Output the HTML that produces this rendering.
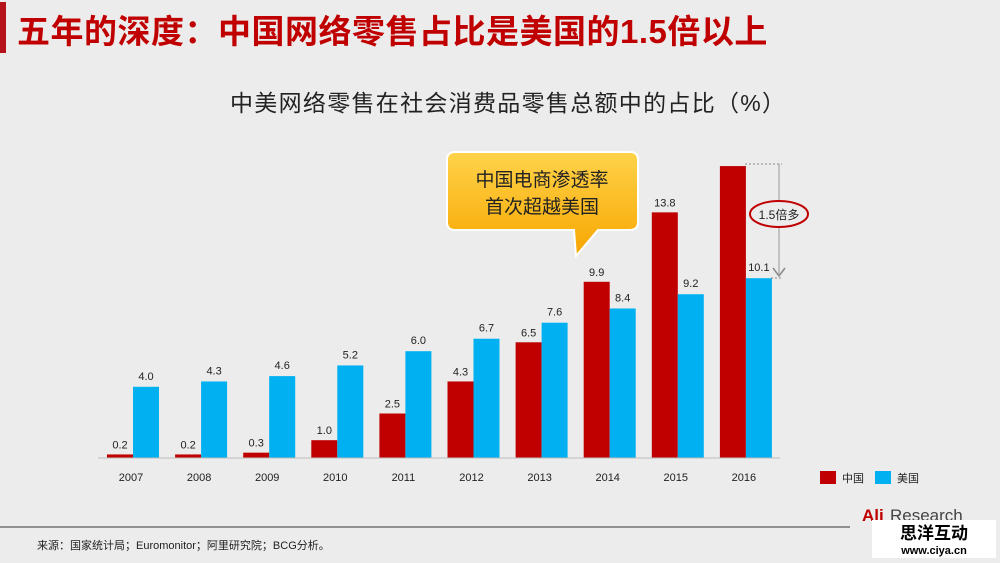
<!DOCTYPE html>
<html><head><meta charset="utf-8"><style>
body{margin:0;width:1000px;height:563px;background:#ececec;overflow:hidden;position:relative;font-family:"Liberation Sans","Noto Sans CJK SC",sans-serif}
.t{position:absolute;white-space:nowrap}
</style></head><body>
<div style="position:absolute;left:0;top:2px;width:6px;height:51px;background:#b5121b"></div>
<div class="t" style="left:17px;top:5px;font-size:33px;font-weight:bold;color:#c00000;letter-spacing:0.5px">五年的深度：中国网络零售占比是美国的1.5倍以上</div>
<div class="t" style="left:230px;top:84px;font-size:23px;color:#222;letter-spacing:1.3px">中美网络零售在社会消费品零售总额中的占比（%）</div>
<svg width="1000" height="563" style="position:absolute;left:0;top:0" font-family="Liberation Sans, Noto Sans CJK SC, sans-serif">
<defs><linearGradient id="g" x1="0" y1="0" x2="0" y2="1"><stop offset="0" stop-color="#ffd34a"/><stop offset="1" stop-color="#f7a600"/></linearGradient></defs>
<g id="bars"></g>
<line x1="98" y1="458" x2="780" y2="458" stroke="#bbb"/>
<path d="M455,152 h175 q8,0 8,8 v62 q0,8 -8,8 h-32 l-22,26 l-2,-26 h-119 q-8,0 -8,-8 v-62 q0,-8 8,-8z" fill="url(#g)" stroke="#fff" stroke-width="2"/>
<text x="542" y="186" font-size="19" text-anchor="middle" fill="#222">中国电商渗透率</text>
<text x="542" y="213" font-size="19" text-anchor="middle" fill="#222">首次超越美国</text>
<line x1="745" y1="164" x2="782" y2="164" stroke="#888" stroke-dasharray="2,2"/>
<line x1="771" y1="278" x2="782" y2="278" stroke="#888" stroke-dasharray="2,2"/>
<line x1="779" y1="164" x2="779" y2="274" stroke="#999"/>
<path d="M773,268 l6,8 l6,-8" fill="none" stroke="#888" stroke-width="1.5"/>
<ellipse cx="779" cy="214" rx="29" ry="13" fill="#ececec" stroke="#c00000" stroke-width="2"/>
<text x="779" y="219" font-size="12" text-anchor="middle" fill="#222">1.5倍多</text>
<rect x="820" y="471" width="16" height="13" fill="#c00000"/>
<text x="842" y="482" font-size="11" fill="#222">中国</text>
<rect x="875" y="471" width="16" height="13" fill="#00b0f0"/>
<text x="897" y="482" font-size="11" fill="#222">美国</text>
<line x1="0" y1="527" x2="850" y2="527" stroke="#333"/>
<text x="37" y="549" font-size="11" fill="#222">来源：国家统计局；Euromonitor；阿里研究院；BCG分析。</text>
<text x="862" y="521" font-size="17" fill="#c00000" font-weight="bold">Ali</text><text x="890" y="521" font-size="17" fill="#444">Research</text>
<rect x="872" y="520" width="124" height="38" fill="#fff"/>
<text x="934" y="539" font-size="17" text-anchor="middle" fill="#000" font-weight="bold">思洋互动</text>
<text x="934" y="554" font-size="11" text-anchor="middle" fill="#000" font-weight="bold">www.ciya.cn</text>
</svg>
<script>
var cn=[0.2,0.2,0.3,1.0,2.5,4.3,6.5,9.9,13.8,16.4],us=[4.0,4.3,4.6,5.2,6.0,6.7,7.6,8.4,9.2,10.1];
var s='',k=17.8,b=458;
for(var i=0;i<10;i++){var c=133+i*68.1;
var hr=Math.max(3,cn[i]*k),hu=us[i]*k;
s+='<rect x="'+(c-26)+'" y="'+(b-hr)+'" width="26" height="'+hr+'" fill="#c00000"/>';
s+='<rect x="'+c+'" y="'+(b-hu)+'" width="26" height="'+hu+'" fill="#00b0f0"/>';
if(i<9)s+='<text x="'+(c-13)+'" y="'+(b-hr-6)+'" font-size="11" text-anchor="middle" fill="#222">'+cn[i].toFixed(1)+'</text>';
s+='<text x="'+(c+13)+'" y="'+(b-hu-7)+'" font-size="11" text-anchor="middle" fill="#222">'+us[i].toFixed(1)+'</text>';
s+='<text x="'+(c-2)+'" y="481" font-size="11" text-anchor="middle" fill="#222">'+(2007+i)+'</text>';}
document.getElementById('bars').innerHTML=s;
</script>
</body></html>
